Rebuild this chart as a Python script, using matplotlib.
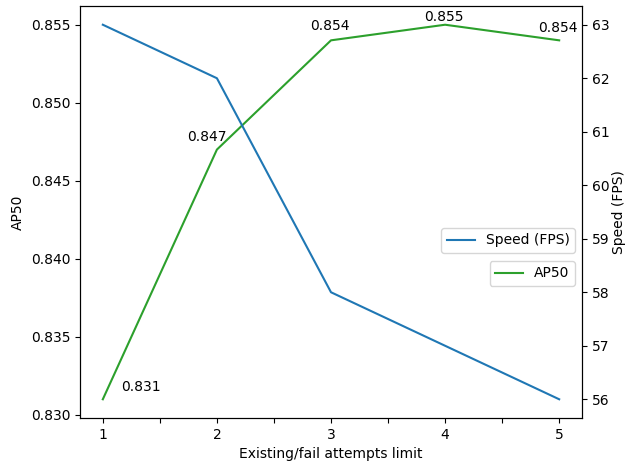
import matplotlib
matplotlib.use("Agg")
import matplotlib.pyplot as plt

limits = [1, 2, 3, 4, 5]
ap50 = [0.831, 0.847, 0.854, 0.855, 0.854]
speed = [63, 62, 58, 57, 56]
ap50_labels = ["0.831", "0.847", "0.854", "0.855", "0.854"]

fig = plt.figure(figsize=(6.26, 4.66), dpi=100)
ax = fig.add_axes([80/626, 1-418/466, (582-80)/626, (418-6)/466])
ax2 = ax.twinx()

ax.plot(limits, ap50, color="tab:green", label="AP50")
ax2.plot(limits, speed, color="tab:blue", label="Speed (FPS)")

offsets = [(38, 8), (-10, 9), (-1, 10), (-1, 4), (-1, 8)]
for x, y, t, off in zip(limits, ap50, ap50_labels, offsets):
    ax.annotate(t, (x, y), xytext=off, textcoords="offset pixels",
                ha="center", va="baseline", fontsize=10)

xt = [1, 1.5, 2, 2.5, 3, 3.5, 4, 4.5, 5]
ax.set_xticks(xt)
ax.set_xticklabels([str(int(v)) if v == int(v) else "" for v in xt])

ax.set_xlabel("Existing/fail attempts limit")
ax.set_ylabel("AP50")
ax2.set_ylabel("Speed (FPS)", labelpad=2)

ax2.legend(loc="center right", bbox_to_anchor=(1, 0.431))
ax.legend(loc="center right", bbox_to_anchor=(1, 0.351))

fig.savefig("out.png", dpi=100)
